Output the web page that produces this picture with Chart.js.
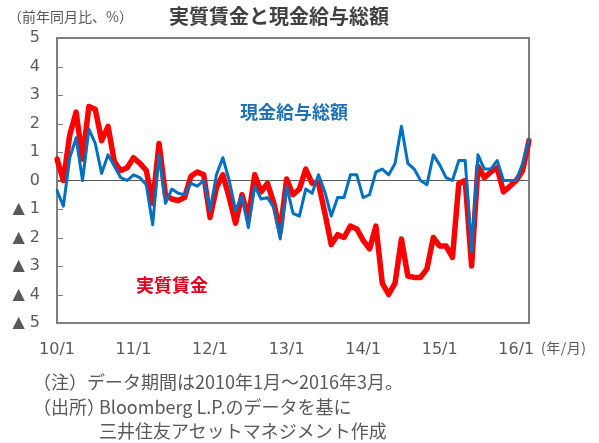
<!DOCTYPE html>
<html lang="ja">
<head>
<meta charset="utf-8">
<script src="https://cdn.jsdelivr.net/npm/chart.js@4.4.1/dist/chart.umd.min.js"></script>
<style>
  html, body { margin:0; padding:0; background:#fff; }
  #wrap { position:relative; width:599px; height:443px; overflow:hidden; font-family:"Noto Sans CJK JP","Noto Sans",sans-serif; color:#595959; }
  #c { position:absolute; left:0; top:0; }
  .t { position:absolute; white-space:nowrap; line-height:1; }
</style>
</head>
<body>
<div id="wrap">
  <canvas id="c" width="599" height="443"></canvas>
  <div class="t" id="title" style="left:169px;top:6px;font-size:20px;font-weight:bold;color:#404040;">実質賃金と現金給与総額</div>
  <div class="t" id="unit" style="left:8px;top:9px;font-size:14px;">（前年同月比、%）</div>
  <div class="t" style="left:240px;top:102px;font-size:18px;font-weight:bold;color:#1f6fb5;">現金給与総額</div>
  <div class="t" style="left:136px;top:275px;font-size:18px;font-weight:bold;color:#e8001c;">実質賃金</div>
  <div class="t" style="left:541px;top:340px;font-size:14px;letter-spacing:0.5px;">(年/月)</div>
  <div class="t" style="left:33px;top:372px;font-size:18px;">（注）データ期間は2010年1月～2016年3月。</div>
  <div class="t" style="left:33px;top:397px;font-size:18px;">（出所）<span style="position:absolute;left:66px;">Bloomberg L.P.のデータを基に</span></div>
  <div class="t" style="left:99px;top:421px;font-size:18px;">三井住友アセットマネジメント作成</div>
</div>
<script>
// Months Jan 2010 .. Mar 2016 (75 points)
const yearLabels = ['10/1','11/1','12/1','13/1','14/1','15/1','16/1'];
const months = [];
for (let y = 10; y <= 16; y++) {
  for (let m = 1; m <= 12; m++) {
    if (y === 16 && m > 3) break;
    months.push(y + '/' + m);
  }
}
// 実質賃金 (real wages, YoY %)
const realWages = [
  0.75, 0.0, 1.6, 2.4, 0.75, 2.6, 2.5, 1.4, 1.9, 0.65, 0.35, 0.45,
  0.8, 0.6, 0.35, -0.8, 1.3, -0.5, -0.65, -0.7, -0.6, 0.15, 0.3, 0.2,
  -1.3, -0.25, 0.2, -0.6, -1.5, -0.5, -1.3, 0.2, -0.4, -0.1, -0.8, -1.8,
  0.05, -0.5, -0.3, 0.4, -0.1, -0.1, -1.15, -2.25, -1.9, -2.0, -1.6, -1.7,
  -2.1, -2.4, -1.6, -3.6, -4.0, -3.6, -2.05, -3.35, -3.4, -3.4, -3.1, -2.0,
  -2.3, -2.3, -2.7, -0.1, 0.0, -3.0, 0.5, 0.1, 0.3, 0.45, -0.4, -0.2,
  0.0, 0.35, 1.4
];
// 現金給与総額 (total cash earnings, YoY %)
const cashEarnings = [
  -0.35, -0.9, 0.8, 1.5, 0.0, 1.8, 1.3, 0.25, 0.9, 0.5, 0.1, 0.0,
  0.2, 0.1, -0.15, -1.55, 0.9, -0.8, -0.3, -0.45, -0.5, -0.1, -0.2, 0.0,
  -1.05, 0.2, 0.8, 0.0, -1.05, -0.55, -1.65, -0.2, -0.65, -0.6, -0.95, -2.05,
  -0.2, -1.15, -1.25, -0.3, -0.45, 0.2, -0.4, -1.25, -0.6, -0.6, 0.2, 0.2,
  -0.6, -0.5, 0.3, 0.4, 0.2, 0.6, 1.9, 0.6, 0.4, 0.0, -0.15, 0.9,
  0.55, 0.1, 0.0, 0.7, 0.7, -2.5, 0.9, 0.4, 0.4, 0.7, 0.0, 0.0,
  0.0, 0.6, 1.45
];
const yTicks = [5, 4, 3, 2, 1, 0, -1, -2, -3, -4, -5];

const framePlugin = {
  id: 'frame',
  beforeDatasetsDraw(chart) {
    const { ctx, chartArea: a, scales } = chart;
    ctx.save();
    ctx.strokeStyle = '#7f7f7f';
    ctx.lineWidth = 1;
    yTicks.forEach(v => {
      const py = Math.round(scales.y.getPixelForValue(v)) + 0.5;
      ctx.beginPath();
      ctx.moveTo(a.left, py);
      ctx.lineTo(a.left + 6, py);
      ctx.stroke();
    });
    ctx.lineWidth = 2;
    ctx.strokeRect(a.left, a.top, a.right - a.left, a.bottom - a.top);
    ctx.restore();
  }
};

new Chart(document.getElementById('c'), {
  type: 'line',
  data: {
    labels: months,
    datasets: [
      { label: '現金給与総額', data: cashEarnings, borderColor: '#0070c0', borderWidth: 3,
        pointRadius: 0, tension: 0, borderJoinStyle: 'round', borderCapStyle: 'round', order: 0 },
      { label: '実質賃金', data: realWages, borderColor: '#ff0000', borderWidth: 5.5,
        pointRadius: 0, tension: 0, borderJoinStyle: 'round', borderCapStyle: 'round', order: 1 }
    ]
  },
  options: {
    responsive: false,
    animation: false,
    events: [],
    layout: { padding: { left: 0, top: 38, right: 70, bottom: 85 } },
    plugins: { legend: { display: false }, tooltip: { enabled: false }, title: { display: false } },
    scales: {
      x: {
        type: 'category',
        offset: false,
        grid: { display: false, drawTicks: false },
        border: { display: false },
        ticks: {
          autoSkip: false, maxRotation: 0, minRotation: 0, padding: 17,
          color: '#595959', font: { family: 'DejaVu Sans', size: 16 },
          callback: (val, idx) => (idx % 12 === 0 ? yearLabels[idx / 12] : null)
        },
        afterFit: s => { s.height = 35; }
      },
      y: {
        min: -5, max: 5,
        grid: {
          drawTicks: false,
          color: c => (c.tick && c.tick.value === 0 ? '#595959' : 'rgba(0,0,0,0)'),
          lineWidth: 1
        },
        border: { display: false },
        ticks: {
          stepSize: 1, padding: 17, color: '#595959',
          font: { family: 'DejaVu Sans', size: 16 },
          callback: v => (v < 0 ? '▲ ' + (-v) : String(v))
        },
        afterFit: s => { s.width = 57; }
      }
    }
  },
  plugins: [framePlugin]
});
</script>
</body>
</html>
